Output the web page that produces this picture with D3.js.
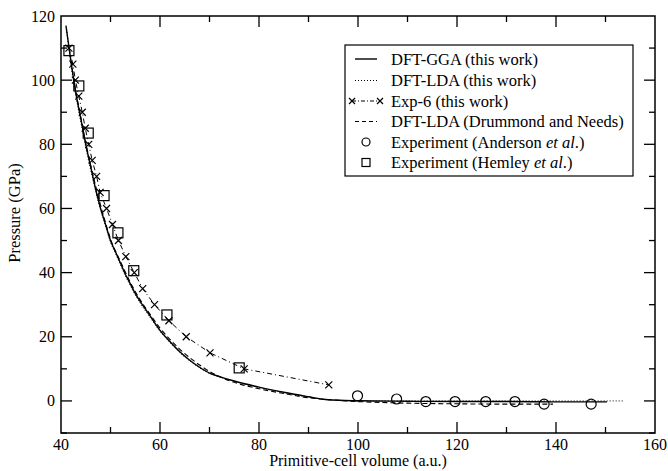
<!DOCTYPE html>
<html><head><meta charset="utf-8">
<script src="https://cdn.jsdelivr.net/npm/d3@7"></script>
<style>
html,body{margin:0;padding:0;background:#fff;}
svg{display:block;}
svg text{font-family:"Liberation Serif","Times New Roman",Times,"DejaVu Serif",serif;}
</style></head>
<body><svg id="c" width="668" height="471"></svg>
<script>
// ---- data ----
const xTicks = [40, 60, 80, 100, 120, 140, 160];
const yTicks = [0, 20, 40, 60, 80, 100, 120];
const xMinor = [50, 70, 90, 110, 130, 150];
const yMinor = [-10, 10, 30, 50, 70, 90, 110];

const ggaV = [41.0,42,43,44,45,46,47,48,49,50,51,52,53,54,55,56,58,60,62,64,66,68,70,72,75,80,85,90,93,96,100,110,120,130,140,150.3];
const ggaP = [117,106,96,88,80,73,66,60,55,50,46.5,43,39.5,36.5,33.5,31,26.5,22,18.5,15.3,12.7,10.5,8.7,7.6,6.2,4.3,2.7,1.3,0.5,0.2,0.05,-0.1,-0.2,-0.2,-0.3,-0.3];

const ldaV = [41.2,42,43,44,45,46,47,48,49,50,51,52,53,54,55,56,58,60,62,64,66,68,70,72,75,80,85,90,93,96,100,110,120,130,140,153.5];
const ldaP = [115,105,95,87,79,72,65.5,59.5,54.5,49.5,46,42.5,39,36,33,30.5,26,21.7,18.2,15,12.5,10.3,8.6,7.5,6.1,4.2,2.6,1.2,0.5,0.2,0.1,0,0,0,0,0];

const exp6V = [41.6,42.4,42.9,43.6,44.3,44.9,45.6,46.3,47.2,47.9,49.2,50.4,51.6,53.1,54.8,56.5,58.9,61.8,65.3,70.1,77.0,94.1];
const exp6P = [110,105,100,95,90,85,80,75,70,65,60,55,50,45,40,35,30,25,20,15,10,5];

const dnV = [42,43,44,45,46,47,48,49,50,52,54,56,58,60,62,64,66,68,70,72,75,80,85,90,95,100,105,110,120,130,139.4];
const dnP = [106,96.5,88.5,80.5,73.5,67,61,55.5,50.5,43.5,37,31.5,27,22.7,19.2,16.1,13.5,11.2,9.2,7.6,5.8,3.8,2.3,1.0,0.3,-0.2,-0.5,-0.7,-0.9,-1.0,-1.0];

const andV = [99.9,107.8,113.7,119.6,125.8,131.7,137.6,147.1];
const andP = [1.6,0.6,-0.2,-0.2,-0.2,-0.2,-1.0,-1.0];

const hemV = [41.6,43.6,45.5,48.7,51.5,54.7,61.4,76.0];
const hemP = [109.2,98.2,83.5,64.0,52.4,40.6,26.8,10.3];

const legendLabels = [
  ["DFT-GGA (this work)"],
  ["DFT-LDA (this work)"],
  ["Exp-6 (this work)"],
  ["DFT-LDA (Drummond and Needs)"],
  ["Experiment (Anderson ", "et al", ".)"],
  ["Experiment (Hemley ", "et al", ".)"]
];

// ---- chart ----
const FONT = "'Liberation Serif','Times New Roman',Times,'DejaVu Serif',serif";
const svg = d3.select("#c");
const L = 61, R = 655, T = 16, B = 433;
const x = d3.scaleLinear().domain([40, 160]).range([L, R]);
const y = d3.scaleLinear().domain([-10, 120]).range([B, T]);

svg.append("clipPath").attr("id", "clip").append("rect")
  .attr("x", L).attr("y", T).attr("width", R - L).attr("height", B - T);
const g = svg.append("g").attr("clip-path", "url(#clip)");

const zip = (a, b) => a.map((v, i) => [v, b[i]]);
const lineLin = d3.line().x(d => x(d[0])).y(d => y(d[1]));
const lineSm = d3.line().x(d => x(d[0])).y(d => y(d[1])).curve(d3.curveMonotoneX);

// curves
g.append("path").datum(zip(dnV, dnP)).attr("d", lineSm)
  .attr("fill", "none").attr("stroke", "#000").attr("stroke-width", 1.1)
  .attr("stroke-dasharray", "5,3");
g.append("path").datum(zip(ldaV, ldaP)).attr("d", lineSm)
  .attr("fill", "none").attr("stroke", "#000").attr("stroke-width", 1)
  .attr("stroke-dasharray", "1,2");
g.append("path").datum(zip(ggaV, ggaP)).attr("d", lineSm)
  .attr("fill", "none").attr("stroke", "#000").attr("stroke-width", 1.4);
g.append("path").datum(zip(exp6V, exp6P)).attr("d", lineLin)
  .attr("fill", "none").attr("stroke", "#000").attr("stroke-width", 1)
  .attr("stroke-dasharray", "5,3,1,3");

function cross(sel, cx, cy, s) {
  sel.append("path")
    .attr("d", `M${cx - s},${cy - s}L${cx + s},${cy + s}M${cx - s},${cy + s}L${cx + s},${cy - s}`)
    .attr("stroke", "#000").attr("stroke-width", 1.2).attr("fill", "none");
}
exp6V.forEach((v, i) => cross(g, x(v), y(exp6P[i]), 3.5));

andV.forEach((v, i) => g.append("circle").attr("cx", x(v)).attr("cy", y(andP[i])).attr("r", 5)
  .attr("fill", "none").attr("stroke", "#000").attr("stroke-width", 1.2));
hemV.forEach((v, i) => g.append("rect").attr("x", x(v) - 5).attr("y", y(hemP[i]) - 5)
  .attr("width", 10).attr("height", 10)
  .attr("fill", "none").attr("stroke", "#000").attr("stroke-width", 1.2));

// frame
svg.append("rect").attr("x", L).attr("y", T).attr("width", R - L).attr("height", B - T)
  .attr("fill", "none").attr("stroke", "#000").attr("stroke-width", 1.5);

// ticks (inward on all sides)
const tk = svg.append("g").attr("stroke", "#000").attr("stroke-width", 1.3);
function xt(v, len) {
  tk.append("line").attr("x1", x(v)).attr("x2", x(v)).attr("y1", B).attr("y2", B - len);
  tk.append("line").attr("x1", x(v)).attr("x2", x(v)).attr("y1", T).attr("y2", T + len);
}
function yt(v, len) {
  tk.append("line").attr("y1", y(v)).attr("y2", y(v)).attr("x1", L).attr("x2", L + len);
  tk.append("line").attr("y1", y(v)).attr("y2", y(v)).attr("x1", R).attr("x2", R - len);
}
xTicks.slice(1, -1).forEach(v => xt(v, 11));
xMinor.forEach(v => xt(v, 6));
yTicks.slice(0, -1).forEach(v => yt(v, 11));
yMinor.forEach(v => yt(v, 6));

// tick labels
const fs = 16;
svg.append("g").selectAll("text").data(xTicks).join("text")
  .attr("x", d => x(d)).attr("y", 450).attr("text-anchor", "middle")
  .attr("font-family", FONT).attr("font-size", fs).attr("fill", "#000").text(d => d);
svg.append("g").selectAll("text").data(yTicks).join("text")
  .attr("x", 55).attr("y", d => y(d) + 5.5).attr("text-anchor", "end")
  .attr("font-family", FONT).attr("font-size", fs).attr("fill", "#000").text(d => d);

// axis titles
svg.append("text").attr("x", 358).attr("y", 466).attr("text-anchor", "middle")
  .attr("font-family", FONT).attr("font-size", 16).attr("fill", "#000").text("Primitive-cell volume (a.u.)");
svg.append("text").attr("transform", "translate(20,213) rotate(-90)").attr("text-anchor", "middle")
  .attr("font-family", FONT).attr("font-size", 16.5).attr("fill", "#000").text("Pressure (GPa)");

// legend
const lg = svg.append("g");
lg.append("rect").attr("x", 345).attr("y", 45).attr("width", 288).attr("height", 131)
  .attr("fill", "#fff").attr("stroke", "#000").attr("stroke-width", 1.2);
const rows = [59, 80.5, 101, 121.5, 142, 162.5];
const sx1 = 355, sx2 = 377, sc = 366;
lg.append("line").attr("x1", sx1).attr("x2", sx2).attr("y1", rows[0]).attr("y2", rows[0])
  .attr("stroke", "#000").attr("stroke-width", 1.4);
lg.append("line").attr("x1", sx1).attr("x2", sx2).attr("y1", rows[1]).attr("y2", rows[1])
  .attr("stroke", "#000").attr("stroke-width", 1).attr("stroke-dasharray", "1,2");
lg.append("line").attr("x1", sx1 - 3).attr("x2", sx2 + 3).attr("y1", rows[2]).attr("y2", rows[2])
  .attr("stroke", "#000").attr("stroke-width", 1).attr("stroke-dasharray", "4,2,1,2");
cross(lg, sx1 - 3, rows[2], 3); cross(lg, sx2 + 3, rows[2], 3);
lg.append("line").attr("x1", sx1).attr("x2", sx2).attr("y1", rows[3]).attr("y2", rows[3])
  .attr("stroke", "#000").attr("stroke-width", 1.1).attr("stroke-dasharray", "4,3");
lg.append("circle").attr("cx", sc).attr("cy", rows[4]).attr("r", 4)
  .attr("fill", "none").attr("stroke", "#000").attr("stroke-width", 1.2);
lg.append("rect").attr("x", sc - 4).attr("y", rows[5] - 4).attr("width", 8).attr("height", 8)
  .attr("fill", "none").attr("stroke", "#000").attr("stroke-width", 1.2);
legendLabels.forEach((parts, i) => {
  const t = lg.append("text").attr("x", 391).attr("y", rows[i] + 5.5)
    .attr("font-family", FONT).attr("font-size", 16.5).attr("fill", "#000");
  parts.forEach((p, j) => {
    const s = t.append("tspan").text(p);
    if (j === 1) s.attr("font-style", "italic");
  });
});
</script>
</body></html>
